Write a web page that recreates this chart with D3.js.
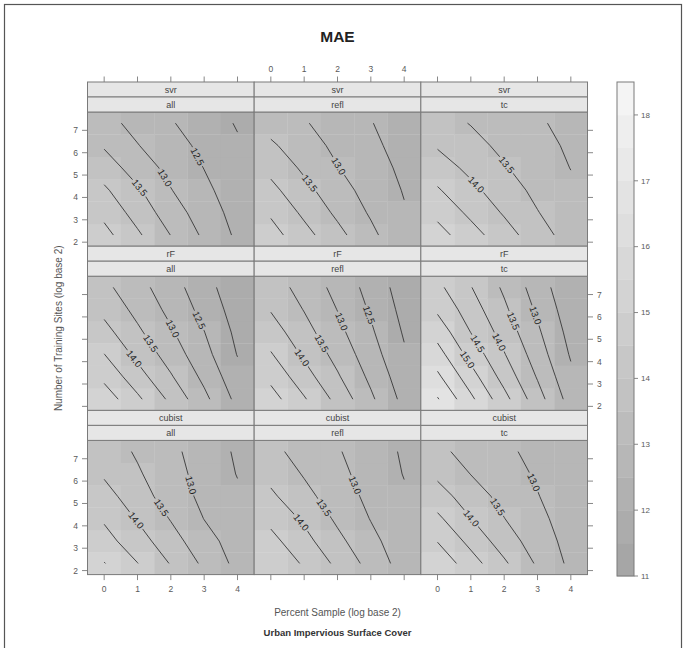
<!DOCTYPE html>
<html><head><meta charset="utf-8">
<script src="https://cdn.jsdelivr.net/npm/d3@7"></script>
<style>body{margin:0;background:#fff}text{font-family:"Liberation Sans",Arial,sans-serif}</style>
</head><body><svg id="c" width="684" height="648"></svg>
<script>
// ---------------- data ----------------
const titleText = "MAE";
const xLabel = "Percent Sample (log base 2)";
const subLabel = "Urban Impervious Surface Cover";
const yLabel = "Number of Training Sites (log base 2)";
const methods = ["svr", "rF", "cubist"];          // rows, top to bottom
const features = ["all", "refl", "tc"];           // columns
const xValues = [0, 1, 2, 3, 4];                  // percent sample, log2
const yValues = [2.32, 3.32, 4.32, 5.32, 6.32, 7.32]; // training sites, log2
const xTicks = [0, 1, 2, 3, 4];
const yTicks = [2, 3, 4, 5, 6, 7];
const keyTicks = [11, 12, 13, 14, 15, 16, 17, 18];
const keyRange = [11, 18.5];
const contourLevels = [11.5, 12, 12.5, 13, 13.5, 14, 14.5, 15, 15.5, 16, 16.5, 17, 17.5, 18];

// MAE grids: rows = yValues (low to high), columns = xValues
const svr_all = [
  [14.66, 14.08, 13.49, 12.91, 12.41],
  [14.37, 13.80, 13.25, 12.74, 12.33],
  [14.08, 13.57, 13.02, 12.61, 12.24],
  [13.76, 13.27, 12.85, 12.49, 12.15],
  [13.45, 13.02, 12.70, 12.38, 12.06],
  [13.16, 12.85, 12.54, 12.25, 11.96]];
const svr_refl = [
  [14.70, 14.17, 13.65, 13.12, 12.60],
  [14.43, 13.90, 13.40, 12.94, 12.54],
  [14.14, 13.65, 13.20, 12.81, 12.47],
  [13.86, 13.41, 13.02, 12.70, 12.40],
  [13.58, 13.21, 12.89, 12.60, 12.33],
  [13.30, 13.04, 12.78, 12.52, 12.26]];
const svr_tc = [
  [15.19, 14.70, 14.21, 13.73, 13.27],
  [14.87, 14.39, 13.95, 13.52, 13.18],
  [14.55, 14.13, 13.73, 13.38, 13.09],
  [14.25, 13.87, 13.54, 13.26, 12.99],
  [13.95, 13.65, 13.39, 13.15, 12.93],
  [13.68, 13.48, 13.27, 13.06, 12.86]];
const rF_all = [
  [15.29, 14.60, 13.89, 13.13, 12.36],
  [14.88, 14.21, 13.55, 12.88, 12.17],
  [14.51, 13.87, 13.27, 12.67, 11.98],
  [14.17, 13.59, 13.06, 12.51, 11.88],
  [13.87, 13.36, 12.87, 12.34, 11.77],
  [13.62, 13.18, 12.71, 12.20, 11.66]];
const rF_refl = [
  [15.21, 14.55, 13.85, 13.09, 12.35],
  [14.87, 14.21, 13.56, 12.89, 12.21],
  [14.54, 13.92, 13.33, 12.72, 12.06],
  [14.24, 13.68, 13.14, 12.57, 11.95],
  [13.97, 13.48, 12.99, 12.44, 11.85],
  [13.75, 13.31, 12.85, 12.32, 11.76]];
const rF_tc = [
  [16.54, 15.61, 14.67, 13.71, 12.79],
  [16.10, 15.21, 14.31, 13.46, 12.61],
  [15.70, 14.82, 14.03, 13.25, 12.45],
  [15.31, 14.49, 13.79, 13.08, 12.33],
  [14.92, 14.24, 13.59, 12.92, 12.21],
  [14.62, 14.02, 13.42, 12.77, 12.09]];
const cubist_all = [
  [15.02, 14.51, 13.97, 13.40, 12.86],
  [14.68, 14.22, 13.70, 13.19, 12.77],
  [14.44, 13.96, 13.47, 12.99, 12.67],
  [14.19, 13.72, 13.27, 12.88, 12.58],
  [13.94, 13.56, 13.18, 12.83, 12.48],
  [13.77, 13.44, 13.11, 12.78, 12.43]];
const cubist_refl = [
  [14.95, 14.43, 13.89, 13.32, 12.78],
  [14.65, 14.16, 13.63, 13.13, 12.71],
  [14.37, 13.92, 13.41, 12.98, 12.63],
  [14.09, 13.65, 13.24, 12.88, 12.56],
  [13.85, 13.46, 13.13, 12.80, 12.48],
  [13.62, 13.33, 13.04, 12.74, 12.44]];
const cubist_tc = [
  [15.37, 14.72, 14.08, 13.43, 12.89],
  [14.98, 14.35, 13.75, 13.25, 12.83],
  [14.60, 14.01, 13.51, 13.12, 12.78],
  [14.23, 13.73, 13.35, 13.02, 12.72],
  [13.89, 13.49, 13.21, 12.94, 12.67],
  [13.60, 13.35, 13.10, 12.86, 12.61]];

const grids = {
  svr: {all: svr_all, refl: svr_refl, tc: svr_tc},
  rF: {all: rF_all, refl: rF_refl, tc: rF_tc},
  cubist: {all: cubist_all, refl: cubist_refl, tc: cubist_tc}
};

// ---------------- layout ----------------
const svg = d3.select("#c");
const L = 87.5, colW = 166.67, top0 = 82, rowH = 164.2, stripH = 15;
const frameCol = "#7a7a7a", tickTxt = "#5a5a5a", tickLen = 5.5, tickFs = 8.5;

svg.append("rect").attr("x", 4.5).attr("y", 4.5).attr("width", 677).attr("height", 660)
  .attr("fill", "none").attr("stroke", "#555").attr("stroke-width", 1.2);

svg.append("text").attr("x", 337.5).attr("y", 42).attr("text-anchor", "middle")
  .attr("font-size", 15.5).attr("font-weight", "bold").attr("fill", "#222").text(titleText);

const bandColor = d3.scaleLinear().domain([11.25, 18.25]).range(["#a6a6a6", "#f4f4f4"]);
function colorOf(v) {
  const b = Math.min(14, Math.max(0, Math.floor((v - 11) / 0.5)));
  return bandColor(11.25 + 0.5 * b);
}

// marching squares -> polylines in data coords
function contourLines(grid, level) {
  const nx = xValues.length, ny = yValues.length;
  const pts = new Map(), adj = new Map();
  const above = (j, i) => grid[j][i] >= level;
  function ep(key, i1, j1, i2, j2) {
    if (!pts.has(key)) {
      const v1 = grid[j1][i1], v2 = grid[j2][i2], t = (level - v1) / (v2 - v1);
      pts.set(key, [xValues[i1] + t * (xValues[i2] - xValues[i1]), yValues[j1] + t * (yValues[j2] - yValues[j1])]);
    }
    return key;
  }
  function link(a, b) {
    if (!adj.has(a)) adj.set(a, []);
    if (!adj.has(b)) adj.set(b, []);
    adj.get(a).push(b); adj.get(b).push(a);
  }
  for (let j = 0; j < ny - 1; j++) for (let i = 0; i < nx - 1; i++) {
    const e = {};
    if (above(j, i) !== above(j, i + 1)) e.b = ep("h" + i + "," + j, i, j, i + 1, j);
    if (above(j, i + 1) !== above(j + 1, i + 1)) e.r = ep("v" + (i + 1) + "," + j, i + 1, j, i + 1, j + 1);
    if (above(j + 1, i) !== above(j + 1, i + 1)) e.t = ep("h" + i + "," + (j + 1), i, j + 1, i + 1, j + 1);
    if (above(j, i) !== above(j + 1, i)) e.l = ep("v" + i + "," + j, i, j, i, j + 1);
    const ks = Object.keys(e);
    if (ks.length === 2) link(e[ks[0]], e[ks[1]]);
    else if (ks.length === 4) {
      const c = (grid[j][i] + grid[j][i + 1] + grid[j + 1][i] + grid[j + 1][i + 1]) / 4 >= level;
      if (c === above(j, i)) { link(e.b, e.r); link(e.t, e.l); }
      else { link(e.b, e.l); link(e.t, e.r); }
    }
  }
  const used = new Set(), lines = [];
  const ekey = (a, b) => a < b ? a + "|" + b : b + "|" + a;
  function walk(start) {
    const line = [start]; let cur = start;
    while (true) {
      const nb = (adj.get(cur) || []).find(n => !used.has(ekey(cur, n)));
      if (nb === undefined) break;
      used.add(ekey(cur, nb)); line.push(nb); cur = nb;
    }
    return line;
  }
  for (const [k, v] of adj) if (v.length === 1 && !used.has(ekey(k, v[0]))) lines.push(walk(k));
  for (const [k, v] of adj) if (v.some(n => !used.has(ekey(k, n)))) lines.push(walk(k));
  return lines.map(l => l.map(k => pts.get(k)));
}

const fmt = d3.format(".1f");
const defs = svg.append("defs");

methods.forEach((m, r) => {
  features.forEach((f, c) => {
    const grid = grids[m][f];
    const rowTop = top0 + r * rowH;
    const pTop = rowTop + 2 * stripH, pBot = rowTop + rowH;
    const x0 = L + c * colW, x1 = L + (c + 1) * colW;
    const xs = d3.scaleLinear().domain([-0.5, 4.5]).range([x0, x1]);
    const ys = d3.scaleLinear().domain([yValues[0] - 0.5, yValues[yValues.length - 1] + 0.5]).range([pBot, pTop]);
    const g = svg.append("g");

    // cells
    const cells = [];
    yValues.forEach((yv, j) => xValues.forEach((xv, i) => cells.push({x: xv, y: yv, v: grid[j][i]})));
    g.selectAll("rect.cell").data(cells).join("rect").attr("class", "cell")
      .attr("x", d => xs(d.x - 0.5)).attr("y", d => ys(d.y + 0.5))
      .attr("width", d => xs(d.x + 0.5) - xs(d.x - 0.5) + 0.3)
      .attr("height", d => ys(d.y - 0.5) - ys(d.y + 0.5) + 0.3)
      .attr("fill", d => colorOf(d.v));

    // contours
    const maskId = "m" + r + c;
    const mask = defs.append("mask").attr("id", maskId).attr("maskUnits", "userSpaceOnUse");
    mask.append("rect").attr("x", 0).attr("y", 0).attr("width", 684).attr("height", 648).attr("fill", "#fff");
    const lineG = g.append("g").attr("mask", "url(#" + maskId + ")");
    const labG = g.append("g");
    const lineGen = d3.line().x(d => xs(d[0])).y(d => ys(d[1]));
    const rx = d3.extent(xValues), ry = d3.extent(yValues);
    contourLevels.forEach(lv => {
      contourLines(grid, lv).forEach(pl => {
        lineG.append("path").attr("d", lineGen(pl)).attr("fill", "none")
          .attr("stroke", "#383838").attr("stroke-width", 0.9);
        if (pl.length > 5) {
          const depth = pl.map(p => Math.min(Math.min(p[0] - rx[0], rx[1] - p[0]) / (rx[1] - rx[0]),
                                             Math.min(p[1] - ry[0], ry[1] - p[1]) / (ry[1] - ry[0])));
          const k = Math.min(d3.maxIndex(depth), pl.length - 2);
          const ax = xs(pl[k][0]), ay = ys(pl[k][1]), bx = xs(pl[k + 1][0]), by = ys(pl[k + 1][1]);
          const cx = (ax + bx) / 2, cy = (ay + by) / 2;
          const ang = Math.atan((by - ay) / (bx - ax)) * 180 / Math.PI;
          const t = labG.append("text").attr("transform", `translate(${cx},${cy}) rotate(${ang})`)
            .attr("text-anchor", "middle").attr("dy", "0.35em").attr("font-size", 9.5)
            .attr("fill", "#222").text(fmt(lv));
          const w = t.node().getComputedTextLength() + 3;
          mask.append("rect").attr("x", -w / 2).attr("y", -4.5).attr("width", w).attr("height", 9)
            .attr("transform", `translate(${cx},${cy}) rotate(${ang})`).attr("fill", "#000");
        }
      });
    });

    // panel border
    g.append("rect").attr("x", x0).attr("y", pTop).attr("width", x1 - x0).attr("height", pBot - pTop)
      .attr("fill", "none").attr("stroke", frameCol).attr("stroke-width", 1);

    // strips
    [m, f].forEach((lab, s) => {
      const sy = rowTop + s * stripH;
      g.append("rect").attr("x", x0).attr("y", sy).attr("width", x1 - x0).attr("height", stripH)
        .attr("fill", "#e6e6e6").attr("stroke", frameCol).attr("stroke-width", 1);
      g.append("text").attr("x", (x0 + x1) / 2).attr("y", sy + stripH / 2).attr("dy", "0.35em")
        .attr("text-anchor", "middle").attr("font-size", 9).attr("fill", "#444").text(lab);
    });

    // axes
    const tk = g.append("g").attr("stroke", frameCol).attr("stroke-width", 0.9);
    if (r === 0) {
      xTicks.forEach(t => tk.append("line").attr("x1", xs(t)).attr("x2", xs(t)).attr("y1", rowTop).attr("y2", rowTop - tickLen));
      if (c === 1) xTicks.forEach(t => g.append("text").attr("x", xs(t)).attr("y", rowTop - tickLen - 5)
        .attr("text-anchor", "middle").attr("font-size", tickFs).attr("fill", tickTxt).text(t));
    }
    if (r === methods.length - 1) {
      xTicks.forEach(t => tk.append("line").attr("x1", xs(t)).attr("x2", xs(t)).attr("y1", pBot).attr("y2", pBot + tickLen));
      if (c !== 1) xTicks.forEach(t => g.append("text").attr("x", xs(t)).attr("y", pBot + tickLen + 12)
        .attr("text-anchor", "middle").attr("font-size", tickFs).attr("fill", tickTxt).text(t));
    }
    if (c === 0) {
      yTicks.forEach(t => tk.append("line").attr("x1", x0).attr("x2", x0 - tickLen).attr("y1", ys(t)).attr("y2", ys(t)));
      if (r !== 1) yTicks.forEach(t => g.append("text").attr("x", x0 - tickLen - 4).attr("y", ys(t)).attr("dy", "0.35em")
        .attr("text-anchor", "end").attr("font-size", tickFs).attr("fill", tickTxt).text(t));
    }
    if (c === features.length - 1) {
      yTicks.forEach(t => tk.append("line").attr("x1", x1).attr("x2", x1 + tickLen).attr("y1", ys(t)).attr("y2", ys(t)));
      if (r === 1) yTicks.forEach(t => g.append("text").attr("x", x1 + tickLen + 4).attr("y", ys(t)).attr("dy", "0.35em")
        .attr("text-anchor", "start").attr("font-size", tickFs).attr("fill", tickTxt).text(t));
    }
  });
});

// axis titles
svg.append("text").attr("x", 337.5).attr("y", 616).attr("text-anchor", "middle")
  .attr("font-size", 10).attr("fill", "#555").text(xLabel);
svg.append("text").attr("x", 337.5).attr("y", 636).attr("text-anchor", "middle")
  .attr("font-size", 9.5).attr("font-weight", "bold").attr("fill", "#333").text(subLabel);
svg.append("text").attr("transform", `translate(62,${(top0 + top0 + 3 * rowH) / 2}) rotate(-90)`)
  .attr("text-anchor", "middle").attr("font-size", 10).attr("fill", "#555").text(yLabel);

// color key
const kx0 = 617, kx1 = 634;
const ky = d3.scaleLinear().domain(keyRange).range([576, 82]);
const bands = d3.range(keyRange[0], keyRange[1] - 0.01, 0.5);
svg.append("g").selectAll("rect").data(bands).join("rect")
  .attr("x", kx0).attr("width", kx1 - kx0).attr("y", d => ky(d + 0.5)).attr("height", d => ky(d) - ky(d + 0.5) + 0.3)
  .attr("fill", d => colorOf(d + 0.25));
svg.append("rect").attr("x", kx0).attr("y", ky(keyRange[1])).attr("width", kx1 - kx0)
  .attr("height", ky(keyRange[0]) - ky(keyRange[1])).attr("fill", "none").attr("stroke", frameCol).attr("stroke-width", 1);
keyTicks.forEach(t => {
  svg.append("line").attr("x1", kx1).attr("x2", kx1 + 4).attr("y1", ky(t)).attr("y2", ky(t))
    .attr("stroke", frameCol).attr("stroke-width", 0.9);
  svg.append("text").attr("x", kx1 + 7).attr("y", ky(t)).attr("dy", "0.35em").attr("font-size", 8)
    .attr("fill", tickTxt).text(t);
});
</script></body></html>
